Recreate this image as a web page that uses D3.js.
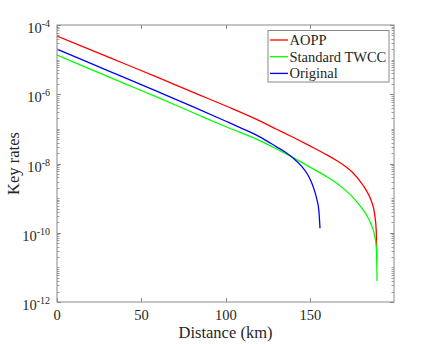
<!DOCTYPE html>
<html>
<head>
<meta charset="utf-8">
<script src="https://cdn.jsdelivr.net/npm/d3@7/dist/d3.min.js"></script>
<style>
  body { margin: 0; background: #fff; }
  svg { display: block; }
  svg text { font-family: 'Liberation Serif', 'Times New Roman', Times, 'DejaVu Serif', serif; }
</style>
</head>
<body>
<div id="chart"></div>
<script>

// Data (distance in km, key rate)
var distAOPP = [0, 20, 40, 60, 80, 100, 120, 130, 140, 150, 160, 165, 170, 175, 180, 183, 186, 188, 189, 189.3];
var rateAOPP = [4.79e-5, 1.91e-5, 7.59e-6, 3.02e-6, 1.17e-6, 4.57e-7, 1.70e-7, 9.77e-8, 5.62e-8, 3.16e-8,
                1.74e-8, 1.26e-8, 8.71e-9, 5.50e-9, 2.82e-9, 1.70e-9, 8.51e-10, 3.55e-10, 1.12e-10, 1.70e-11];

var distTWCC = [0, 20, 40, 60, 80, 100, 120, 130, 140, 150, 160, 165, 170, 175, 180, 183, 186, 188, 189, 189.5];
var rateTWCC = [1.35e-5, 5.25e-6, 2.04e-6, 7.94e-7, 3.02e-7, 1.15e-7, 4.57e-8, 2.63e-8, 1.45e-8, 7.76e-9,
                4.07e-9, 2.82e-9, 1.82e-9, 1.07e-9, 5.50e-10, 3.39e-10, 1.74e-10, 8.51e-11, 3.98e-11, 4.07e-12];

var distOrig = [0, 20, 40, 60, 80, 100, 110, 120, 130, 135, 140, 145, 148, 150, 152, 154, 155, 155.7];
var rateOrig = [2.0e-5, 7.76e-6, 3.02e-6, 1.17e-6, 4.47e-7, 1.66e-7, 1.0e-7, 5.89e-8, 3.02e-8, 2.14e-8,
                1.41e-8, 8.13e-9, 5.13e-9, 3.39e-9, 1.91e-9, 8.51e-10, 4.47e-10, 1.35e-10];

var seriesNames = ['AOPP', 'Standard TWCC', 'Original'];
var colors = ['#ff0000', '#00ff00', '#0000ff'];
var xTicks = [0, 50, 100, 150];
var yTickExps = [-12, -10, -8, -6, -4];

var width = 436,
    height = 344,
    margin = {top: 25, right: 42, bottom: 42, left: 57},
    axisColor = '#8a8a8a',
    textColor = '#262626';

var iw = width - margin.left - margin.right,
    ih = height - margin.top - margin.bottom;

var xScale = d3.scaleLinear().domain([0, 199.5]).range([0, iw]);
var yScale = d3.scaleLog().domain([1e-12, 1e-4]).range([ih, 0]);

var svg = d3.select('#chart').append('svg')
    .attr('width', width)
    .attr('height', height);

var g = svg.append('g')
    .attr('transform', 'translate(' + margin.left + ',' + margin.top + ')');

// Minor log ticks (2..9 x 10^n plus odd decades)
var minor = [];
for (var e = -12; e < -4; e++) {
    for (var k = 1; k < 10; k++) {
        if (k === 1 && yTickExps.indexOf(e) >= 0) continue;
        minor.push(k * Math.pow(10, e));
    }
}

// Lines
var series = [
    {dist: distAOPP, rate: rateAOPP},
    {dist: distTWCC, rate: rateTWCC},
    {dist: distOrig, rate: rateOrig}
];

var line = d3.line()
    .x(function (d) { return xScale(d[0]); })
    .y(function (d) { return yScale(d[1]); })
    .curve(d3.curveMonotoneX);

g.append('defs').append('clipPath').attr('id', 'clip')
  .append('rect').attr('width', iw).attr('height', ih);

g.append('g').attr('clip-path', 'url(#clip)')
  .selectAll('.line')
  .data(series)
  .enter().append('path')
    .attr('class', 'line')
    .attr('fill', 'none')
    .attr('stroke-width', 1.3)
    .attr('stroke', function (d, i) { return colors[i]; })
    .attr('d', function (d) {
        return line(d.dist.map(function (x, i) { return [x, d.rate[i]]; }));
    });

// Box with ticks on all four sides
var ax = g.append('g').attr('class', 'axes');

ax.append('rect')
  .attr('x', 0).attr('y', 0)
  .attr('width', iw).attr('height', ih)
  .attr('fill', 'none')
  .attr('stroke', axisColor)
  .attr('stroke-width', 1);

// x ticks bottom & top
xTicks.forEach(function (t) {
    var x = Math.round(xScale(t)) + 0.5;
    ax.append('line').attr('x1', x).attr('x2', x).attr('y1', ih).attr('y2', ih - 4)
      .attr('stroke', axisColor);
    ax.append('line').attr('x1', x).attr('x2', x).attr('y1', 0).attr('y2', 4)
      .attr('stroke', axisColor);
    ax.append('text')
      .attr('x', xScale(t))
      .attr('y', ih + 18)
      .attr('text-anchor', 'middle')
      .style('font-size', '14.5px')
      .style('fill', textColor)
      .text(t);
});

// y major ticks & labels
yTickExps.forEach(function (ex) {
    var y = Math.round(yScale(Math.pow(10, ex))) + 0.5;
    ax.append('line').attr('x1', 0).attr('x2', 4).attr('y1', y).attr('y2', y).attr('stroke', axisColor);
    ax.append('line').attr('x1', iw).attr('x2', iw - 4).attr('y1', y).attr('y2', y).attr('stroke', axisColor);
    var tx = ax.append('text')
      .attr('x', -7)
      .attr('y', yScale(Math.pow(10, ex)) + 8)
      .attr('text-anchor', 'end')
      .style('font-size', '14.5px')
      .style('fill', textColor);
    tx.append('tspan').text('10');
    tx.append('tspan').attr('dy', -6).style('font-size', '10px').text(ex);
});

// y minor ticks
minor.forEach(function (v) {
    var y = Math.round(yScale(v)) + 0.5;
    ax.append('line').attr('x1', 0).attr('x2', 2.5).attr('y1', y).attr('y2', y)
      .attr('stroke', axisColor).attr('stroke-width', 0.8);
    ax.append('line').attr('x1', iw).attr('x2', iw - 2.5).attr('y1', y).attr('y2', y)
      .attr('stroke', axisColor).attr('stroke-width', 0.8);
});

// Axis labels
g.append('text')
  .attr('x', iw / 2)
  .attr('y', ih + 36)
  .attr('text-anchor', 'middle')
  .style('font-size', '16.5px')
  .style('fill', textColor)
  .text('Distance (km)');

g.append('text')
  .attr('transform', 'rotate(-90)')
  .attr('x', -ih / 2)
  .attr('y', -38)
  .attr('text-anchor', 'middle')
  .style('font-size', '16.5px')
  .style('fill', textColor)
  .text('Key rates');

// Legend
var leg = svg.append('g')
    .attr('class', 'legend')
    .attr('transform', 'translate(268,30.5)');

leg.append('rect')
  .attr('width', 121)
  .attr('height', 51.5)
  .attr('fill', '#fff')
  .attr('stroke', axisColor)
  .attr('stroke-width', 1);

var item = leg.selectAll('.legend.item')
    .data(seriesNames)
    .enter().append('g')
    .attr('class', 'legend item')
    .attr('transform', function (d, i) { return 'translate(0,' + (9.5 + i * 16.7) + ')'; });

item.append('line')
  .attr('x1', 2).attr('x2', 20)
  .attr('y1', 0).attr('y2', 0)
  .attr('stroke-width', 1.3)
  .attr('stroke', function (d, i) { return colors[i]; });

item.append('text')
  .attr('x', 21.5)
  .attr('y', 5)
  .style('font-size', '14.5px')
  .style('fill', textColor)
  .text(function (d) { return d; });

</script>
</body>
</html>
